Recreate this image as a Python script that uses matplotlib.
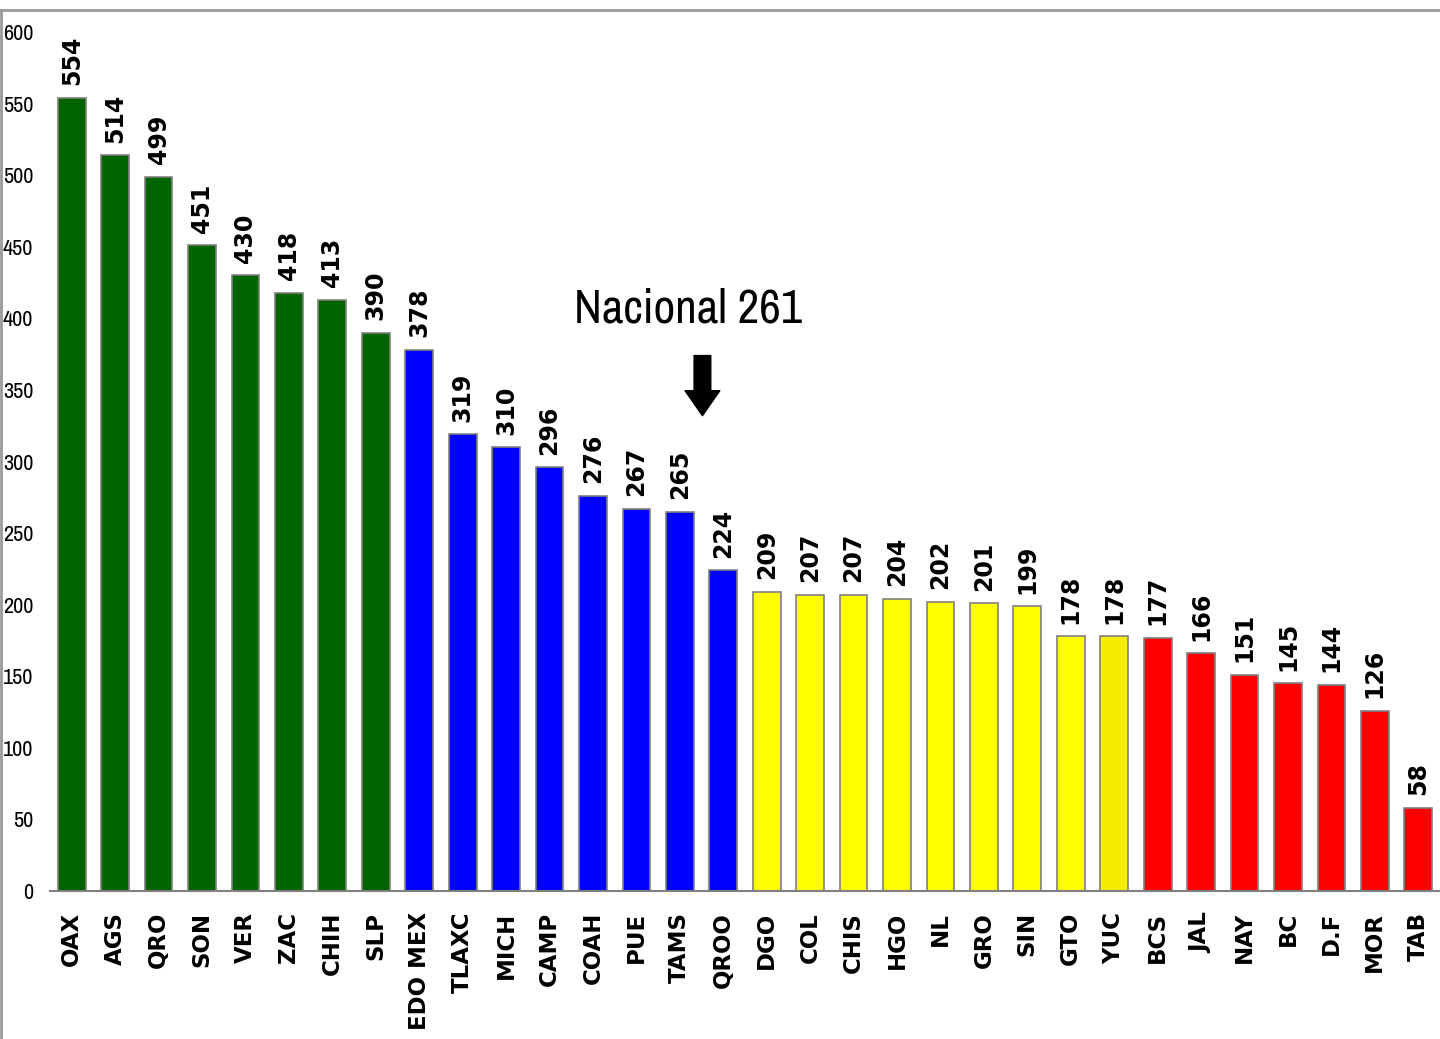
import matplotlib
matplotlib.use("Agg")
import matplotlib.pyplot as plt
from matplotlib import font_manager
from matplotlib.lines import Line2D

states = ["OAX", "AGS", "QRO", "SON", "VER", "ZAC", "CHIH", "SLP",
          "EDO MEX", "TLAXC", "MICH", "CAMP", "COAH", "PUE", "TAMS", "QROO",
          "DGO", "COL", "CHIS", "HGO", "NL", "GRO", "SIN", "GTO", "YUC",
          "BCS", "JAL", "NAY", "BC", "D.F", "MOR", "TAB"]
values = [554, 514, 499, 451, 430, 418, 413, 390,
          378, 319, 310, 296, 276, 267, 265, 224,
          209, 207, 207, 204, 202, 201, 199, 178, 178,
          177, 166, 151, 145, 144, 126, 58]
groups = ["green"] * 8 + ["blue"] * 8 + ["yellow"] * 8 + ["yuc"] + ["red"] * 7
national = 261
yticks = list(range(0, 601, 50))

palette = {"green": "#006400", "blue": "#0000ff", "yellow": "#ffff00",
           "yuc": "#f5ec00", "red": "#ff0000"}

# look for a condensed face, the reference uses a narrow sans
names = sorted({f.name for f in font_manager.fontManager.ttflist})
condensed = [n for n in names if "Narrow" in n or "Condensed" in n]
if condensed:
    narrow = [condensed[0], "DejaVu Sans"]
    tick_size, note_size = 16, 34
else:
    narrow = ["Liberation Sans", "DejaVu Sans"]
    tick_size, note_size = 15, 30

fig = plt.figure(figsize=(14.4, 10.39), dpi=100)
ax = fig.add_axes([50 / 1440, 148 / 1039, 1390 / 1440, 859 / 1039])

x = list(range(len(states)))
ax.bar(x, values, width=0.64, color=[palette[g] for g in groups],
       edgecolor="#808080", linewidth=1.2, zorder=2)

for xi, v in zip(x, values):
    ax.annotate(str(v), xy=(xi, v), xytext=(0, 9), textcoords="offset points",
                rotation=90, ha="center", va="bottom",
                fontsize=17, fontweight="bold", family="DejaVu Sans")

ax.set_xlim(-0.5, len(states) - 0.5)
ax.set_ylim(0, 600)
ax.set_yticks(yticks)
ax.set_yticklabels([str(t) for t in yticks], family=narrow, fontsize=tick_size)
ax.set_xticks(x)
ax.set_xticklabels(states, rotation=90, fontsize=16.5, fontweight="bold",
                   family="DejaVu Sans", va="top")
ax.tick_params(axis="y", length=0, pad=12)
ax.tick_params(axis="x", length=0, pad=15)

for side in ("left", "top", "right"):
    ax.spines[side].set_visible(False)
ax.spines["bottom"].set_color("#808080")
ax.spines["bottom"].set_linewidth(1.5)

# national average marker
ax.text(14.2, 397, f"Nacional {national}", ha="center", va="baseline",
        fontsize=note_size, family=narrow, fontweight="medium")
ax.annotate("", xy=(14.52, 332), xytext=(14.52, 374),
            arrowprops=dict(arrowstyle="simple,head_width=1.25,head_length=0.9,tail_width=0.6",
                            mutation_scale=20, color="black",
                            shrinkA=0, shrinkB=0))

# outer frame lines (top and left)
fig.add_artist(Line2D([0, 1], [1 - 10 / 1039, 1 - 10 / 1039],
                      transform=fig.transFigure, color="#999999", linewidth=2))
fig.add_artist(Line2D([1 / 1440, 1 / 1440], [0, 1 - 10 / 1039],
                      transform=fig.transFigure, color="#999999", linewidth=2))

fig.savefig("out.png", dpi=100, facecolor="white")
